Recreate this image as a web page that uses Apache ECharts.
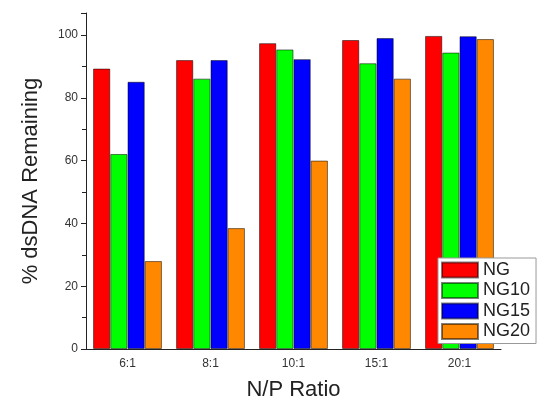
<!DOCTYPE html>
<html>
<head>
<meta charset="utf-8">
<script src="https://cdn.jsdelivr.net/npm/echarts@6/dist/echarts.min.js"></script>
<style>
  html, body { margin: 0; padding: 0; background: #fff; }
  #chart { width: 538px; height: 403px; }
</style>
</head>
<body>
<div id="chart"></div>
<script>
const categories = ['6:1', '8:1', '10:1', '15:1', '20:1'];
const seriesNames = ['NG', 'NG10', 'NG15', 'NG20'];
const ngValues = [89.3, 92.0, 97.4, 98.4, 99.7];
const ng10Values = [62.1, 86.1, 95.4, 91.0, 94.4];
const ng15Values = [85.1, 92.0, 92.3, 99.0, 99.6];
const ng20Values = [28.0, 38.5, 60.0, 86.1, 98.7];
const colors = ['#ff0000', '#00ff00', '#0000ff', '#ff8800'];

const chart = echarts.init(document.getElementById('chart'));

const allValues = [ngValues, ng10Values, ng15Values, ng20Values];

const option = {
  animation: false,
  grid: { left: 86, right: 37, top: 13, bottom: 54, outerBoundsMode: 'none' },
  legend: {
    orient: 'vertical',
    left: 438,
    top: 258,
    icon: 'rect',
    itemWidth: 36,
    itemHeight: 15,
    itemGap: 2.5,
    padding: [3, 6, 3, 3],
    backgroundColor: '#fff',
    borderColor: '#999',
    borderWidth: 1,
    borderRadius: 0,
    textStyle: { fontSize: 18, color: '#222', fontFamily: 'Liberation Sans, Arial' },
    data: seriesNames
  },
  xAxis: [{
    type: 'category',
    data: categories,
    name: 'N/P Ratio',
    nameLocation: 'middle',
    nameGap: 30,
    nameTextStyle: { fontSize: 22, color: '#222', fontFamily: 'Liberation Sans, Arial' },
    axisLine: { lineStyle: { color: '#222', width: 1 } },
    axisTick: { alignWithLabel: true, length: 5, lineStyle: { color: '#222' } },
    axisLabel: { fontSize: 12, color: '#333', margin: 9, fontFamily: 'Liberation Sans, Arial' }
  }, {
    type: 'category',
    data: categories,
    position: 'bottom',
    axisLine: { show: false },
    axisTick: { inside: true, length: 4, lineStyle: { color: '#222' } },
    axisLabel: { show: false }
  }],
  yAxis: {
    type: 'value',
    min: 0,
    max: 107,
    interval: 20,
    name: '% dsDNA Remaining',
    nameLocation: 'middle',
    nameGap: 44,
    nameRotate: 90,
    nameTextStyle: { fontSize: 22, color: '#222', fontFamily: 'Liberation Sans, Arial' },
    axisLine: { show: true, lineStyle: { color: '#222', width: 1 } },
    axisTick: { show: true, length: 5, lineStyle: { color: '#222' } },
    minorTick: { show: true, splitNumber: 2, length: 4, lineStyle: { color: '#222' } },
    axisLabel: {
      fontSize: 12, color: '#333', margin: 8, fontFamily: 'Liberation Sans, Arial',
      formatter: v => (v % 20 === 0 && v <= 100 ? v : '')
    },
    splitLine: { show: false }
  },
  series: seriesNames.map((name, i) => ({
    name: name,
    type: 'bar',
    data: allValues[i],
    barGap: '0%',
    barCategoryGap: '17%',
    itemStyle: { color: colors[i], borderColor: 'rgba(0,0,0,0.5)', borderWidth: 1 }
  }))
};

chart.setOption(option);
</script>
</body>
</html>
